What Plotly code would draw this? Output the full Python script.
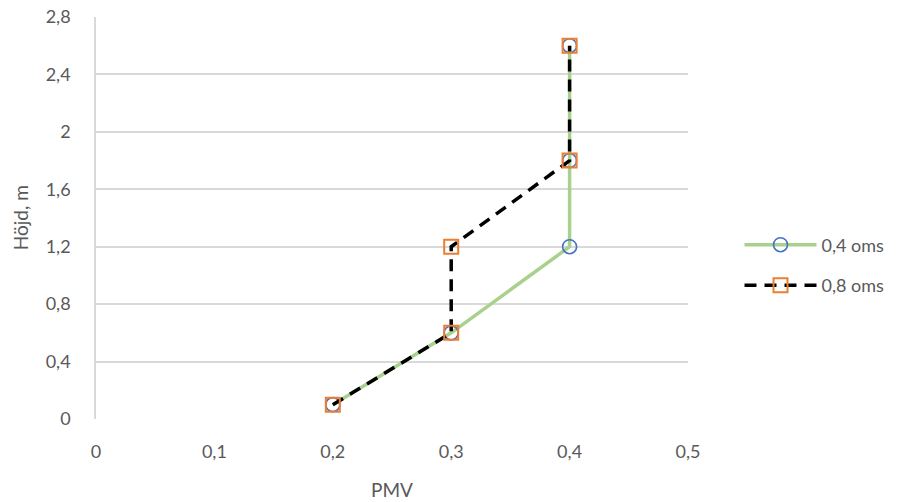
import plotly.graph_objects as go

# PMV values and heights for the two air-change rates
pmv_04 = [0.2, 0.3, 0.4, 0.4, 0.4]
height_04 = [0.1, 0.6, 1.2, 1.8, 2.6]
pmv_08 = [0.2, 0.3, 0.3, 0.4, 0.4]
height_08 = [0.1, 0.6, 1.2, 1.8, 2.6]

x_ticks = [0, 0.1, 0.2, 0.3, 0.4, 0.5]
y_ticks = [0, 0.4, 0.8, 1.2, 1.6, 2.0, 2.4, 2.8]


def comma(v):
    s = f"{v:g}"
    return s.replace(".", ",")


fig = go.Figure()
fig.add_trace(go.Scatter(
    x=pmv_04, y=height_04, name="0,4 oms", mode="lines+markers",
    legendgroup="a",
    line=dict(color="#A9D18E", width=3.5),
    marker=dict(symbol="circle-open", size=14, color="#4472C4",
                line=dict(width=1.6, color="#4472C4")),
))
fig.add_trace(go.Scatter(
    x=pmv_08, y=height_08, name="0,8 oms", mode="lines+markers",
    legendgroup="b",
    line=dict(color="#000000", width=3.5, dash="12px,8px"),
    marker=dict(symbol="square-open", size=14, color="#ED7D31",
                line=dict(width=2, color="#ED7D31")),
))

txt = "#595959"
font_family = "Lato, Open Sans, sans-serif"
tick_font = dict(family=font_family, size=18, color=txt)

fig.update_layout(
    width=901, height=502,
    margin=dict(l=96, r=211, t=17, b=83),
    paper_bgcolor="white", plot_bgcolor="white",
    font=dict(family=font_family, size=18, color=txt),
    hovermode=False,
    showlegend=True,
    legend=dict(x=1.087, y=0.383, xanchor="left", yanchor="middle",
                itemwidth=72, tracegroupgap=14,
                font=dict(family=font_family, size=18, color=txt),
                bgcolor="rgba(0,0,0,0)"),
    xaxis=dict(
        range=[0, 0.5], tickvals=x_ticks, ticktext=[comma(v) for v in x_ticks],
        showgrid=False, zeroline=False, showline=False,
        ticks="outside", ticklen=16, tickcolor="rgba(0,0,0,0)",
        tickfont=tick_font, automargin=False,
    ),
    yaxis=dict(
        range=[0, 2.8], tickvals=y_ticks, ticktext=[comma(v) for v in y_ticks],
        showgrid=True, gridcolor="#D9D9D9", gridwidth=1.5,
        zeroline=False, showline=True, linecolor="#D9D9D9", linewidth=1.5,
        ticks="outside", ticklen=20, tickcolor="rgba(0,0,0,0)",
        tickfont=tick_font, automargin=False,
    ),
    annotations=[
        dict(text="PMV", xref="paper", yref="paper", x=0.5, y=-0.175,
             xanchor="center", yanchor="middle", showarrow=False,
             font=dict(family=font_family, size=19, color=txt)),
        dict(text="Höjd, m", xref="paper", yref="paper", x=-0.128, y=0.5,
             xanchor="center", yanchor="middle", showarrow=False, textangle=-90,
             font=dict(family=font_family, size=19, color=txt)),
    ],
)

fig.write_html("out.html")
